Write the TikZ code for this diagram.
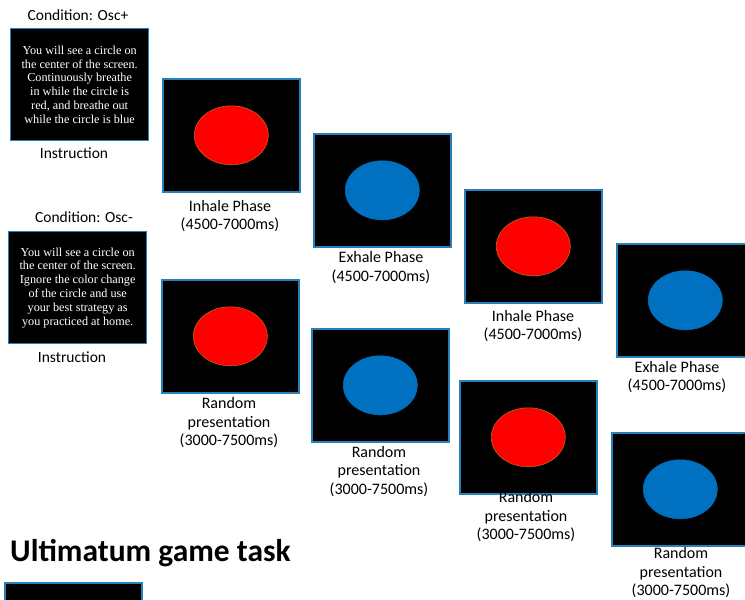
\documentclass[tikz,border=0pt]{standalone}
\usepackage{fontspec}
\setmainfont{Carlito}
\newfontfamily\serifin{Liberation Serif}
\usetikzlibrary{shapes.geometric}
\definecolor{framecol}{RGB}{38,128,186}
\definecolor{redfill}{RGB}{255,0,0}
\definecolor{redline}{RGB}{200,95,30}
\definecolor{bluefill}{RGB}{0,112,192}
\tikzset{
  screen/.style={draw=framecol, line width=1.6pt, fill=black, minimum width=137pt, minimum height=113pt, inner sep=0pt, anchor=north west},
  instr/.style={draw=framecol, line width=1.3pt, fill=black, minimum width=138pt, minimum height=112pt, inner sep=0pt, anchor=north west, text=white, font=\serifin\fontsize{12.2}{13.8}\selectfont, align=center},
  reddot/.style={ellipse, fill=redfill, draw=redline, line width=0.6pt, minimum width=74pt, minimum height=59pt, inner sep=0pt},
  bluedot/.style={ellipse, fill=bluefill, draw=bluefill, line width=0.6pt, minimum width=74pt, minimum height=59pt, inner sep=0pt},
  lbl/.style={font=\fontsize{16}{18.5}\selectfont, align=center, inner sep=0pt},
  side/.style={font=\fontsize{15.5}{18}\selectfont, inner sep=0pt},
  title/.style={font=\bfseries\fontsize{31.5}{35}\selectfont, anchor=west, inner sep=0pt}
}
\begin{document}
\begin{tikzpicture}[x=1pt,y=-1pt]
\clip (0,0) rectangle (745,600);
\fill[white] (0,0) rectangle (745,600);
% left column
\node[side] (c1) at (78,15) {Condition: Osc+};
\node[instr] (ins1) at (10,28) {You will see a circle on\\the center of the screen.\\Continuously breathe\\in while the circle is\\red, and breathe out\\while the circle is blue};
\node[side] (i1) at (74,153) {Instruction};
\node[side] (c2) at (84,217) {Condition: Osc-};
\node[instr] (ins2) at (8,231) {You will see a circle on\\the center of the screen.\\Ignore the color change\\of the circle and use\\your best strategy as\\you practiced at home.};
\node[side] (i2) at (72,357) {Instruction};
% Osc+ screens
\node[screen] (s1) at (162,78) {};
\node[reddot] (e1) at (s1.center) {};
\node[lbl] (l1) at (230,216) {Inhale Phase\\(4500-7000ms)};
\node[screen] (s2) at (313,133) {};
\node[bluedot] (e2) at (s2.center) {};
\node[lbl] (l2) at (381,267.5) {Exhale Phase\\(4500-7000ms)};
\node[screen] (s3) at (464,189) {};
\node[reddot] (e3) at (s3.center) {};
\node[lbl] (l3) at (533,326) {Inhale Phase\\(4500-7000ms)};
\node[screen] (s4) at (616,243) {};
\node[bluedot] (e4) at (s4.center) {};
\node[lbl] (l4) at (677,377) {Exhale Phase\\(4500-7000ms)};
% Osc- screens
\node[screen] (s5) at (161,279) {};
\node[reddot] (e5) at (s5.center) {};
\node[lbl] (l5) at (229,423) {Random\\presentation\\(3000-7500ms)};
\node[screen] (s6) at (311,328) {};
\node[bluedot] (e6) at (s6.center) {};
\node[lbl] (l6) at (379,471.5) {Random\\presentation\\(3000-7500ms)};
\node[screen] (s7) at (459,380) {};
\node[reddot] (e7) at (s7.center) {};
\node[lbl] (l7) at (526,517) {Random\\presentation\\(3000-7500ms)};
\node[screen] (s8) at (611,432) {};
\node[bluedot] (e8) at (s8.center) {};
\node[lbl] (l8) at (681,573) {Random\\presentation\\(3000-7500ms)};
% Ultimatum game
\node[title] (ug) at (10,553) {Ultimatum game task};
\node[screen] (b1) at (4,582) {};
\end{tikzpicture}
\end{document}
